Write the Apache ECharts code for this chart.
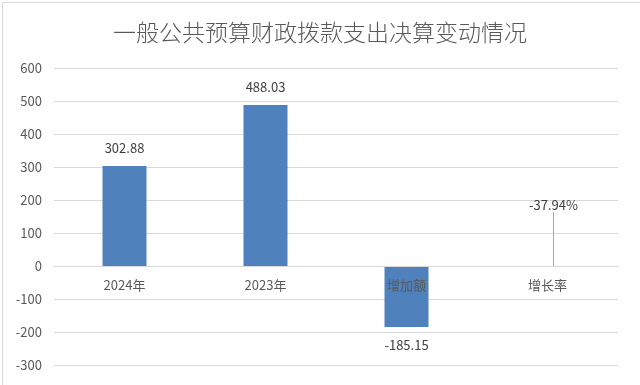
<!DOCTYPE html>
<html><head><meta charset="utf-8">
<script src="https://cdn.jsdelivr.net/npm/echarts@6/dist/echarts.min.js"></script>
<style>html,body{margin:0;padding:0;background:#fff}#c{width:640px;height:385px}</style>
</head><body><div id="c"></div>
<script>
const titleText = '一般公共预算财政拨款支出决算变动情况';
const categories = ['2024年', '2023年', '增加额', '增长率'];
const amountValues = [302.88, 488.03, -185.15, null];
const rateValues = [null, null, null, -0.3794];
const rateLabels = ['', '', '', '-37.94%'];
const yTicks = { min: -300, max: 600, interval: 100 };

const gridTop = 68, gridBottom = 20, chartH = 385;
const plotH = chartH - gridTop - gridBottom;
// move the category axis up to the zero line of the value scale
const zeroOffset = -plotH * (0 - yTicks.min) / (yTicks.max - yTicks.min);

const font = '"Noto Sans CJK SC", "Liberation Sans", sans-serif';
const chart = echarts.init(document.getElementById('c'), null, { renderer: 'canvas' });
chart.setOption({
  animation: false,
  backgroundColor: '#ffffff',
  graphic: [{ type: 'rect', left: 0, top: 0, shape: { width: 639, height: 384 },
    style: { fill: 'none', stroke: '#d9d9d9', lineWidth: 1 }, z: -1 }],
  title: { text: titleText, left: 'center', top: 16,
    textStyle: { fontFamily: font, fontSize: 23, fontWeight: 300, color: '#595959' } },
  grid: { left: 54, right: 22, top: gridTop, bottom: gridBottom, containLabel: false, outerBoundsMode: 'none' },
  xAxis: {
    type: 'category', data: categories, z: 10, offset: zeroOffset,
    axisLine: { show: true, onZero: false, lineStyle: { color: '#d9d9d9' } },
    axisTick: { show: false },
    axisLabel: { color: '#595959', fontFamily: font, fontSize: 13, margin: 13 },
    splitLine: { show: false }
  },
  yAxis: {
    type: 'value', min: yTicks.min, max: yTicks.max, interval: yTicks.interval,
    axisLine: { show: false }, axisTick: { show: false },
    axisLabel: { color: '#595959', fontFamily: font, fontSize: 13, margin: 12 },
    splitLine: { lineStyle: { color: '#d9d9d9', width: 1 } }
  },
  series: [
    {
      type: 'bar', barWidth: 44, barGap: '-100%',
      itemStyle: { color: '#4f81bd' },
      data: amountValues.map(v => v === null ? '-' : (v < 0 ? { value: v, label: { position: 'bottom' } } : v)),
      label: { show: true, position: 'top', distance: 11, color: '#404040', fontFamily: font, fontSize: 13,
        formatter: p => p.value.toFixed(2) }
    },
    {
      type: 'bar', barWidth: 44, barGap: '-100%',
      itemStyle: { color: '#4f81bd' },
      data: rateValues.map(v => v === null ? '-' : v),
      label: { show: true, position: 'top', distance: 5, color: '#404040', fontFamily: font, fontSize: 13,
        formatter: p => rateLabels[p.dataIndex] },
      labelLayout: { dx: 6, dy: -49 },
      labelLine: { show: true, lineStyle: { color: '#a6a6a6', width: 1 } }
    }
  ]
});
</script></body></html>
